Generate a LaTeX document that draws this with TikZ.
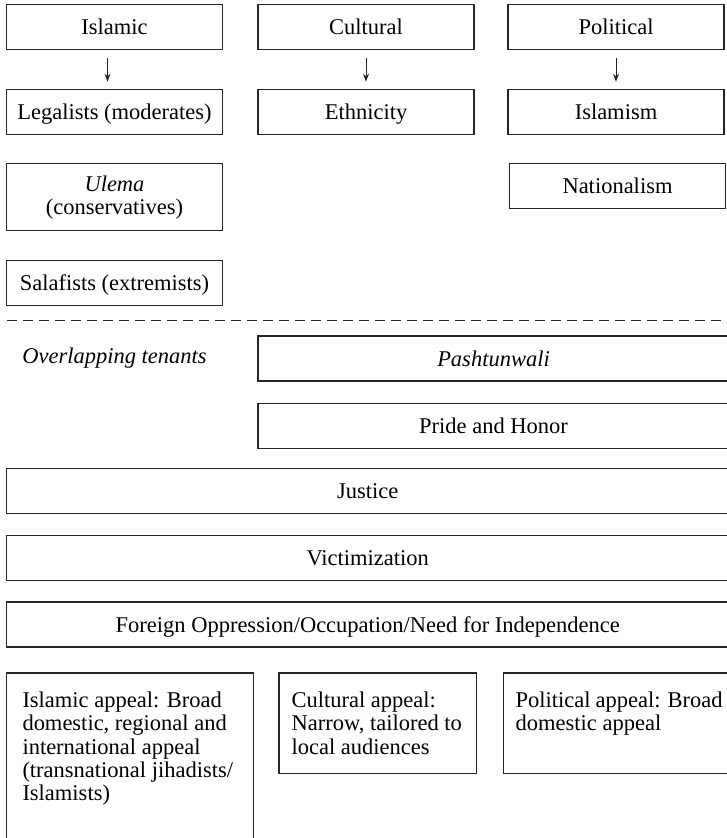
\documentclass[tikz,border=0pt]{standalone}
\usepackage{fontspec}
\setmainfont{Liberation Serif}
\usetikzlibrary{arrows,arrows.meta,positioning}

\begin{document}
\begin{tikzpicture}[x=1pt,y=1pt,>={Stealth[length=8pt,width=6pt]}]
	\tikzset{plainbox/.style={draw=black!85, line width=1.3pt, shape=rectangle, inner sep=0pt, outer sep=0pt, font=\fontsize{22.5}{23.2}\selectfont},
		block/.style={plainbox, align=center, minimum width=216pt, minimum height=45pt, text height=15pt, text depth=0pt},
		tblock/.style={plainbox, align=center, minimum width=216pt, minimum height=67pt},
		wblock/.style={block, minimum width=471pt},
		fblock/.style={block, minimum width=722.5pt},
		ablock/.style={plainbox, inner xsep=12.5pt, inner ysep=19pt},
		tenant/.style={inner sep=0pt, font=\fontsize{22.5}{23.2}\selectfont\itshape},
		dashline/.style={draw=black!85, line width=1.3pt, dash pattern=on 10pt off 6pt},
		arr/.style={->, draw=black!85, line width=1pt, shorten >=8pt, shorten <=8pt}
	}
	\useasboundingbox (0,0) rectangle (727,-838);
	% three sources
	\node [block, anchor=north west] (isl) at (6.5,-4.7) {Islamic};
	\node [block, right = 35.5pt of isl] (cul) {Cultural};
	\node [block, right = 34pt of cul] (pol) {Political};
	\node [block, below = 40pt of isl] (leg) {Legalists (moderates)};
	\node [block, below = 40pt of cul] (eth) {Ethnicity};
	\node [block, below = 40pt of pol] (ism) {Islamism};
	\node [tblock, below = 29pt of leg] (ule) {\textit{Ulema}\\(conservatives)};
	\node [block, below = 29pt of ism, xshift=1.5pt] (nat) {Nationalism};
	\node [block, below = 29.6pt of ule] (sal) {Salafists (extremists)};
	\draw [arr] ([xshift=-7pt]isl.south) -- ([xshift=-7pt]leg.north);
	\draw [arr] (cul.south) -- (eth.north);
	\draw [arr] (pol.south) -- (ism.north);
	\coordinate [below = 15pt of sal.south west] (dl);
	% overlapping tenants
	\node [wblock, below right = 30.7pt and 0pt of sal.south -| cul.west] (pash) {\textit{Pashtunwali}};
	\node [tenant] (ovl) at (pash -| isl) {Overlapping tenants};
	\node [wblock, below = 22.3pt of pash] (pride) {Pride and Honor};
	\node [fblock, below right = 20pt and 0pt of pride.south -| isl.west] (just) {Justice};
	\node [fblock, below = 22pt of just] (vic) {Victimization};
	\node [fblock, below = 21.7pt of vic] (forg) {Foreign Oppression/Occupation/Need for Independence};
	\draw [dashline] (dl) -- (dl -| just.east);
	% appeal
	\node [ablock, inner xsep=16pt, below right = 26pt and 0pt of forg.south west] (lapp) {\parbox[t][135pt][t]{215pt}{Islamic appeal: Broad\\domestic, regional and\\international appeal\\(transnational jihadists/\\Islamists)}};
	\node [ablock, below right = 0pt and 25.6pt of lapp.north east] (capp) {\parbox[t][62.7pt][t]{172.4pt}{Cultural appeal:\\Narrow, tailored to\\local audiences}};
	\node [ablock, below right = 0pt and 26.7pt of capp.north east] (papp) {\parbox[t][62.7pt][t]{207pt}{Political appeal: Broad\\domestic appeal}};
\end{tikzpicture}
\end{document}
